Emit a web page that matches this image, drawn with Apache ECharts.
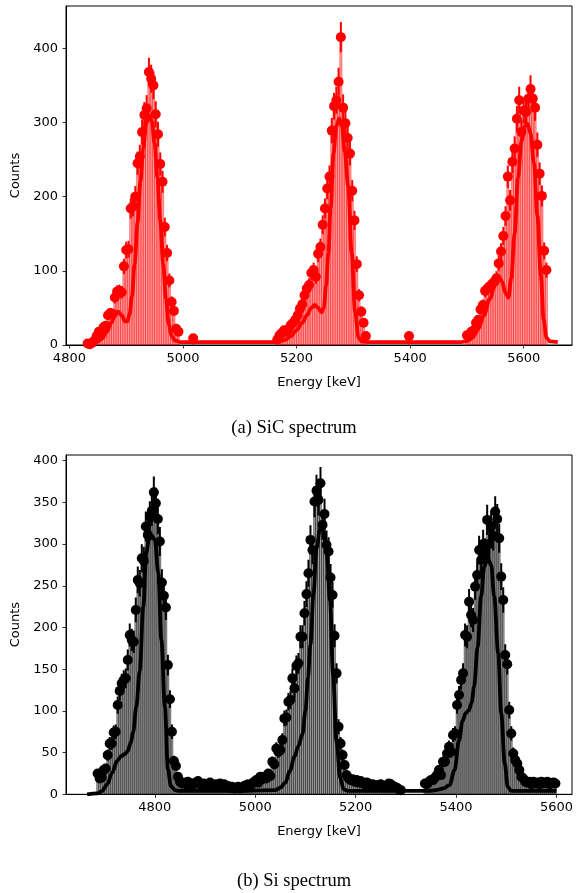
<!DOCTYPE html>
<html><head><meta charset="utf-8">
<script src="https://cdn.jsdelivr.net/npm/echarts@6/dist/echarts.min.js"></script>
<style>html,body{margin:0;padding:0;background:#fff}#c{width:576px;height:893px}</style>
</head><body><div id="c"></div><script>
// ---- data ----
const binWidth = 4; // keV
const xTicks = [4800, 5000, 5200, 5400, 5600];
const sicYTicks = [0, 100, 200, 300, 400];
const siYTicks = [0, 50, 100, 150, 200, 250, 300, 350, 400];

// SiC spectrum (counts per bin, bins start at given centre energy)
const sicPeak1Start = 4832;
const sicPeak1Counts = [2,1,3,6,12,18,16,24,26,40,43,42,64,72,73,71,106,128,129,184,187,200,245,254,287,310,319,368,359,350,311,284,244,220,159,124,87,58,46,22,18];
const sicIsolatedE = [5018, 5398];
const sicIsolatedC = [9, 12];
const sicPeak2Start = 5166;
const sicPeak2Counts = [7,13,16,20,18,22,27,30,34,40,49,55,67,76,81,97,101,92,123,132,162,184,211,227,289,322,330,355,415,320,299,279,258,208,168,109,67,45,30,12];
const sicPeak3Start = 5500;
const sicPeak3Counts = [13,12,18,20,30,34,48,54,73,76,79,82,85,90,110,126,147,174,227,195,247,265,305,330,287,316,314,332,345,332,320,270,231,201,127,101];
const sicFitE = [4830,4840,4850,4858,4866,4874,4880,4886,4892,4898,4902,4906,4910,4915,4920,4925,4930,4935,4940,4945,4950,4955,4960,4965,4970,4975,4980,4986,4995,5080,5160,5170,5180,5190,5200,5210,5218,5226,5232,5238,5244,5248,5252,5256,5260,5265,5270,5275,5280,5285,5291,5297,5303,5309,5315,5325,5410,5490,5500,5510,5520,5530,5540,5550,5556,5562,5568,5573,5578,5584,5590,5596,5602,5607,5612,5618,5624,5630,5635,5640,5646,5660];
const sicFitC = [1,2,5,9,18,30,40,45,40,32,32,42,65,110,165,220,265,298,310,302,272,225,168,110,62,28,12,6,4,4,4,5,7,12,20,30,40,50,54,50,44,50,80,124,185,258,295,305,295,260,213,124,45,10,5,4,4,4,5,10,22,40,62,82,92,85,70,64,90,150,225,275,295,298,285,245,175,95,35,10,5,4];

// Si spectrum
const siPartAStart = 4686;
const siPartACounts = [
 25,19,20,29,31,47,61,61,74,75,
 107,124,133,137,139,161,191,185,183,221,
 257,253,283,280,321,311,333,340,362,349,
 330,303,254,238,224,155,114,75,40,34,
 21,15,
 13,14,12,15,11,13,12,14,16,12,
 11,13,10,12,14,11,9,12,10,13,
 11,12,9,10,8,9,7,8,9,7,
 8,10,11,12,10,13,15,
 17,14,21,18,21,19,25,22,39,36,
 55,51,53,65,91,92,111,113,139,127,
 154,157,189,189,217,240,265,305,293,351,
 364,353,373,323,336,299,291,260,239,190,
 145,81,61,47,35,23,19,17,
 18,15,17,14,16,13,12,14,13,11,
 12,10,11,11,12,9,10,11,13,12,
 10,9,8,6,5];
const siPartBStart = 5338;
const siPartBCounts = [
 13,12,15,17,17,20,23,29,23,39,
 39,49,57,51,71,73,107,119,137,145,
 191,189,231,215,209,249,263,293,281,300,
 290,329,300,321,310,339,330,307,261,233,
 167,156,101,73,49,41,37,29,21,19,
 15,14,15,12,15,13,14,12,15,13,
 14,15,12,13,14,13];
const siFitE = [4665,4685,4695,4705,4715,4725,4733,4740,4746,4752,4757,4763,4770,4777,4783,4788,4794,4800,4807,4813,4820,4826,4832,4840,4850,4950,5040,5050,5060,5069,5078,5086,5094,5100,5105,5110,5116,5122,5129,5135,5142,5149,5155,5162,5169,5176,5185,5260,5330,5345,5360,5375,5387,5397,5406,5413,5419,5426,5431,5436,5443,5450,5456,5463,5470,5476,5484,5490,5497,5503,5510,5600];
const siFitC = [0,1,4,12,26,40,46,48,52,62,75,105,148,225,290,305,310,305,265,185,105,30,10,5,4,4,5,8,14,28,45,58,72,100,140,180,240,295,318,318,292,232,143,63,20,6,4,4,4,4,5,7,11,29,65,88,97,101,110,129,177,237,273,283,275,237,169,97,37,9,4,4];

// ---- build ----
function bins(start, counts) { return counts.map((c, i) => [start + i * binWidth, c]); }
const sicData = [].concat(
  bins(sicPeak1Start, sicPeak1Counts),
  sicIsolatedE.map((e, i) => [e, sicIsolatedC[i]]),
  bins(sicPeak2Start, sicPeak2Counts),
  bins(sicPeak3Start, sicPeak3Counts));
const siData = [].concat(bins(siPartAStart, siPartACounts), bins(siPartBStart, siPartBCounts));
const sicFit = sicFitE.map((e, i) => [e, sicFitC[i]]);
const siFit = siFitE.map((e, i) => [e, siFitC[i]]);

const FONT = 'DejaVu Sans';
function histSeries(idx, data, fill, stroke) {
  return {
    type: 'custom', xAxisIndex: idx, yAxisIndex: idx, data: data, z: 1, silent: true, clip: true,
    encode: { x: 0, y: 1 },
    renderItem: function (params, api) {
      const e = api.value(0), c = api.value(1);
      const p0 = api.coord([e - binWidth / 2, c]);
      const p1 = api.coord([e + binWidth / 2, 0]);
      return { type: 'rect', shape: { x: p0[0], y: p0[1], width: p1[0] - p0[0], height: p1[1] - p0[1] },
        style: { fill: fill, stroke: stroke, lineWidth: 0.35 } };
    }
  };
}
function errSeries(idx, data, color) {
  return {
    type: 'custom', xAxisIndex: idx, yAxisIndex: idx, data: data, z: 4, silent: true, clip: true,
    encode: { x: 0, y: 1 },
    renderItem: function (params, api) {
      const e = api.value(0), c = api.value(1), s = Math.sqrt(c); // Poisson uncertainty
      const a = api.coord([e, c - s]), b = api.coord([e, c + s]);
      return { type: 'line', shape: { x1: a[0], y1: a[1], x2: b[0], y2: b[1] },
        style: { stroke: color, lineWidth: 2 } };
    }
  };
}
function fitSeries(idx, data, color) {
  return { type: 'line', xAxisIndex: idx, yAxisIndex: idx, data: data, showSymbol: false, symbol: 'none',
    smooth: 0.35, smoothMonotone: 'x', z: 3, silent: true, lineStyle: { color: color, width: 3.8 } };
}
function scatterSeries(idx, data, color) {
  return { type: 'scatter', xAxisIndex: idx, yAxisIndex: idx, data: data, symbolSize: 10, z: 5, silent: true,
    itemStyle: { color: color, opacity: 1 } };
}
const plain = v => String(v);
function xAxis(idx, min, max) {
  return { type: 'value', gridIndex: idx, min: min, max: max, name: 'Energy [keV]', nameLocation: 'middle', nameGap: 31,
    nameTextStyle: { fontFamily: FONT, fontSize: 13, color: '#000' },
    axisLine: { show: true, onZero: false, lineStyle: { color: '#000', width: 1 } },
    axisTick: { show: true, length: 3.5, lineStyle: { color: '#000', width: 0.8 }, customValues: xTicks },
    axisLabel: { show: true, color: '#000', fontFamily: FONT, fontSize: 13, margin: 7, customValues: xTicks, formatter: plain },
    splitLine: { show: false } };
}
function yAxis(idx, max, ticks) {
  return { type: 'value', gridIndex: idx, min: 0, max: max, name: 'Counts', nameLocation: 'middle', nameGap: 43,
    nameTextStyle: { fontFamily: FONT, fontSize: 13, color: '#000' },
    axisLine: { show: true, onZero: false, lineStyle: { color: '#000', width: 1 } },
    axisTick: { show: true, length: 3.5, lineStyle: { color: '#000', width: 0.8 }, customValues: ticks },
    axisLabel: { show: true, color: '#000', fontFamily: FONT, fontSize: 13, margin: 8, customValues: ticks, formatter: plain },
    splitLine: { show: false } };
}

const chart = echarts.init(document.getElementById('c'), null, { renderer: 'canvas' });
chart.setOption({
  animation: false,
  backgroundColor: '#fff',
  grid: [
    { left: 66, top: 6, width: 506, height: 339, show: true, borderColor: '#000', borderWidth: 1, containLabel: false },
    { left: 66, top: 455, width: 506, height: 339.3, show: true, borderColor: '#000', borderWidth: 1, containLabel: false }
  ],
  xAxis: [xAxis(0, 4794, 5685), xAxis(1, 4623, 5631)],
  yAxis: [yAxis(0, 457, sicYTicks), yAxis(1, 406.8, siYTicks)],
  series: [
    histSeries(0, sicData, 'rgba(255,0,0,0.4)', '#ff0000'),
    fitSeries(0, sicFit, '#ff0000'),
    errSeries(0, sicData, '#ff0000'),
    scatterSeries(0, sicData, '#ff0000'),
    histSeries(1, siData, 'rgba(0,0,0,0.4)', '#000000'),
    fitSeries(1, siFit, '#000000'),
    errSeries(1, siData, '#000000'),
    scatterSeries(1, siData, '#000000')
  ],
  graphic: [
    { type: 'text', x: 294, y: 428, style: { text: '(a) SiC spectrum', font: '18.5px "Liberation Serif"', fill: '#000',
      align: 'center', verticalAlign: 'middle', textAlign: 'center', textVerticalAlign: 'middle' } },
    { type: 'text', x: 294, y: 881, style: { text: '(b) Si spectrum', font: '18.5px "Liberation Serif"', fill: '#000',
      align: 'center', verticalAlign: 'middle', textAlign: 'center', textVerticalAlign: 'middle' } }
  ]
});
</script></body></html>
